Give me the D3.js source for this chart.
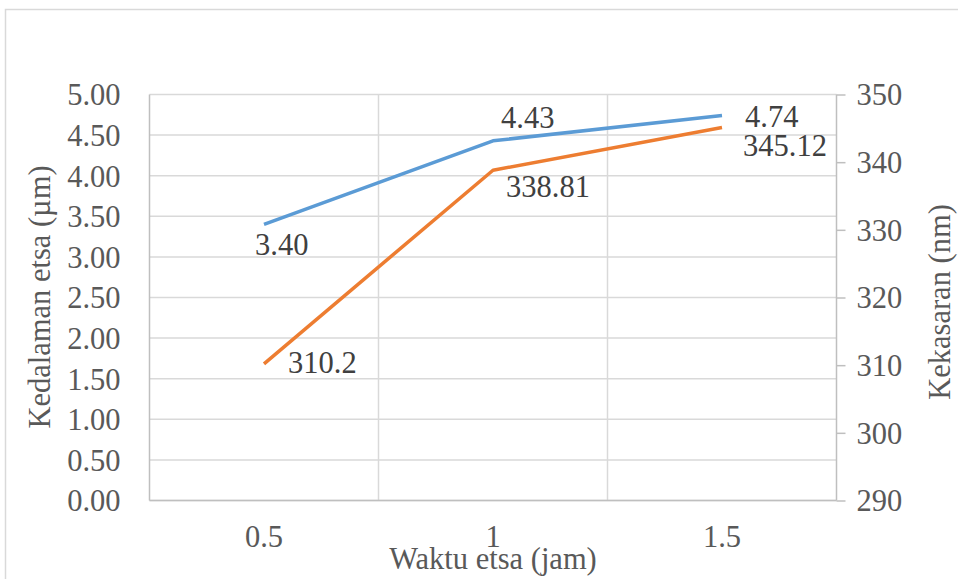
<!DOCTYPE html>
<html><head><meta charset="utf-8">
<script src="https://cdn.jsdelivr.net/npm/d3@7"></script>
<style>body{margin:0;background:#fff;}svg{display:block;}</style>
</head><body>
<svg id="chart" width="958" height="579"></svg>
<script>
const categories = ["0.5", "1", "1.5"];
const depthValues = [3.40, 4.43, 4.74];
const roughValues = [310.2, 338.81, 345.12];
const depthLabels = ["3.40", "4.43", "4.74"];
const roughLabels = ["310.2", "338.81", "345.12"];
const leftTicks = [0, 0.5, 1, 1.5, 2, 2.5, 3, 3.5, 4, 4.5, 5];
const rightTicks = [290, 300, 310, 320, 330, 340, 350];

const FONT = "'Liberation Serif', 'DejaVu Serif', serif";
const svg = d3.select("#chart");
const fs = 30.5;
const L = 149.5, R = 836.5, T = 94.5, B = 500.5;

svg.append("rect").attr("x",5.5).attr("y",9.5).attr("width",970).attr("height",600)
  .attr("fill","#fff").attr("stroke","#d9d9d9").attr("stroke-width",1.5);

const x = d3.scaleBand().domain(categories).range([L, R]);
const yL = d3.scaleLinear().domain([0,5]).range([B, T]);
const yR = d3.scaleLinear().domain([290,350]).range([B, T]);

svg.append("g").selectAll("line").data(leftTicks).join("line")
  .attr("x1",L).attr("x2",R).attr("y1",d=>yL(d)).attr("y2",d=>yL(d))
  .attr("stroke","#d9d9d9").attr("stroke-width",1.5);
svg.append("g").selectAll("line").data(categories.slice(1)).join("line")
  .attr("x1",d=>x(d)).attr("x2",d=>x(d)).attr("y1",T).attr("y2",B)
  .attr("stroke","#d9d9d9").attr("stroke-width",1.5);

svg.append("line").attr("x1",L).attr("x2",L).attr("y1",T).attr("y2",B).attr("stroke","#bfbfbf").attr("stroke-width",1.5);
svg.append("line").attr("x1",L).attr("x2",R).attr("y1",B).attr("y2",B).attr("stroke","#bfbfbf").attr("stroke-width",1.5);

const gL = svg.append("g").attr("transform",`translate(${L},0)`)
  .call(d3.axisLeft(yL).tickValues(leftTicks).tickFormat(d3.format(".2f")).tickSize(0).tickPadding(29));
gL.select(".domain").remove();
gL.attr("font-family", FONT);
gL.selectAll("text").style("font-family",FONT).style("font-size",fs+"px").attr("fill","#595959").attr("dy","0.34em");

const gR = svg.append("g").attr("transform",`translate(${R},0)`)
  .call(d3.axisRight(yR).tickValues(rightTicks).tickFormat(d3.format("d")).tickSize(9).tickPadding(11));
gR.attr("font-family", FONT);
gR.select(".domain").attr("stroke","#bfbfbf").attr("stroke-width",1.5).attr("d",`M0,${T}V${B}`);
gR.selectAll("line").attr("stroke","#bfbfbf").attr("stroke-width",1.5);
gR.selectAll("text").style("font-family",FONT).style("font-size",fs+"px").attr("fill","#595959").attr("dy","0.34em");

const gB = svg.append("g").attr("transform",`translate(0,${B})`)
  .call(d3.axisBottom(x).tickSize(0).tickPadding(25));
gB.attr("font-family", FONT);
gB.select(".domain").remove();
gB.selectAll("text").style("font-family",FONT).style("font-size",fs+"px").attr("fill","#595959");

function title(sel){ return sel.style("font-family",FONT).style("font-size",fs+"px").attr("fill","#595959").attr("text-anchor","middle"); }
title(svg.append("text").attr("x",493).attr("y",569)).text("Waktu etsa (jam)");
title(svg.append("text").attr("transform","translate(50,297) rotate(-90)")).text("Kedalaman etsa (µm)");
title(svg.append("text").attr("transform","translate(950,302) rotate(-90)")).text("Kekasaran (nm)");

const cx = (i)=>x(categories[i])+x.bandwidth()/2;
const lineL = d3.line().x((d,i)=>cx(i)).y(d=>yL(d));
const lineR = d3.line().x((d,i)=>cx(i)).y(d=>yR(d));
svg.append("path").datum(depthValues).attr("d",lineL).attr("fill","none").attr("stroke","#5b9bd5").attr("stroke-width",3.5).attr("stroke-linejoin","round");
svg.append("path").datum(roughValues).attr("d",lineR).attr("fill","none").attr("stroke","#ed7d31").attr("stroke-width",3.5).attr("stroke-linejoin","round");

const depthOff = [[-9,31],[8,-13],[23,11]];
const roughOff = [[24,9],[13,27],[21,28]];
svg.append("g").selectAll("text").data(depthValues).join("text")
  .attr("x",(d,i)=>cx(i)+depthOff[i][0])
  .attr("y",(d,i)=>yL(d)+depthOff[i][1])
  .style("font-family",FONT).style("font-size",fs+"px").attr("fill","#404040").text((d,i)=>depthLabels[i]);
svg.append("g").selectAll("text").data(roughValues).join("text")
  .attr("x",(d,i)=>cx(i)+roughOff[i][0])
  .attr("y",(d,i)=>yR(d)+roughOff[i][1])
  .style("font-family",FONT).style("font-size",fs+"px").attr("fill","#404040").text((d,i)=>roughLabels[i]);
</script>
</body></html>
